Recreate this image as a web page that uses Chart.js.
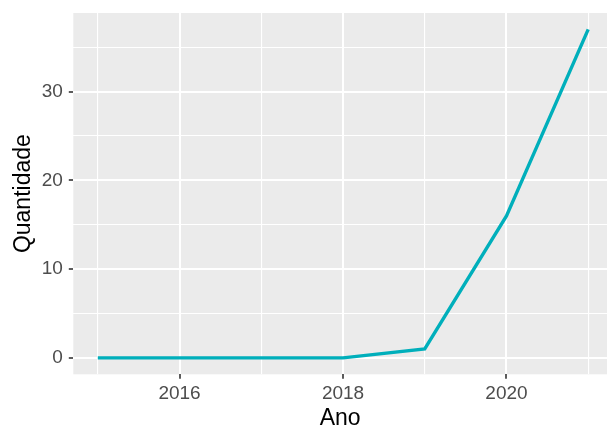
<!DOCTYPE html>
<html>
<head>
<meta charset="utf-8">
<script src="https://cdn.jsdelivr.net/npm/chart.js@4"></script>
<style>
  html, body { margin: 0; padding: 0; background: #ffffff; }
  #wrap { position: relative; width: 607px; height: 426px; }
</style>
</head>
<body>
<div id="wrap"><canvas id="c"></canvas></div>
<script>
const years = [2015, 2016, 2017, 2018, 2019, 2020, 2021];
const quantidade = [0, 0, 0, 0, 1, 16, 37];
const xMajorTicks = [2016, 2018, 2020];
const xMinorTicks = [2015, 2017, 2019, 2021];
const yMajorTicks = [0, 10, 20, 30];
const yMinorTicks = [5, 15, 25, 35];
const xTitle = 'Ano';
const yTitle = 'Quantidade';

const FONT = '"Liberation Sans", Arial, Helvetica, sans-serif';
const xAllTicks = xMajorTicks.concat(xMinorTicks).sort((a, b) => a - b);
const yAllTicks = yMajorTicks.concat(yMinorTicks).sort((a, b) => a - b);

const panelBg = {
  id: 'panelBg',
  beforeDraw(chart) {
    const { ctx, chartArea: a } = chart;
    ctx.save();
    ctx.fillStyle = '#EBEBEB';
    ctx.fillRect(a.left, a.top, a.right - a.left, a.bottom - a.top);
    ctx.restore();
  }
};

const isMajorX = v => xMajorTicks.includes(v);
const isMajorY = v => yMajorTicks.includes(v);

new Chart(document.getElementById('c'), {
  type: 'line',
  data: {
    datasets: [{
      data: years.map((x, i) => ({ x: x, y: quantidade[i] })),
      borderColor: '#00AFBB',
      borderWidth: 3.4,
      pointRadius: 0,
      tension: 0,
      fill: false
    }]
  },
  options: {
    responsive: true,
    maintainAspectRatio: false,
    animation: false,
    layout: { padding: { top: 13, left: 0, right: 0, bottom: 0 } },
    plugins: { legend: { display: false }, tooltip: { enabled: false } },
    scales: {
      x: {
        type: 'linear',
        min: 2014.7,
        max: 2021.23,
        afterBuildTicks: s => { s.ticks = xAllTicks.map(v => ({ value: v })); },
        afterFit: s => { s.height = 51.7; s.paddingLeft = 0; s.paddingRight = 0; },
        border: { display: false },
        grid: {
          color: '#FFFFFF',
          lineWidth: c => (c.tick && isMajorX(c.tick.value)) ? 2 : 1.1,
          drawTicks: true,
          tickLength: 4.5,
          tickWidth: 1.6,
          tickColor: c => (c.tick && isMajorX(c.tick.value)) ? '#333333' : 'rgba(0,0,0,0)'
        },
        ticks: {
          autoSkip: false,
          maxRotation: 0,
          padding: 4,
          color: '#4D4D4D',
          font: { family: FONT, size: 19 },
          callback: v => isMajorX(v) ? String(v) : ''
        },
        title: {
          display: true,
          text: xTitle,
          color: '#000000',
          font: { family: FONT, size: 23, lineHeight: 1 },
          padding: { top: 0, bottom: -4 }
        }
      },
      y: {
        type: 'linear',
        min: -1.85,
        max: 38.85,
        afterBuildTicks: s => { s.ticks = yAllTicks.map(v => ({ value: v })); },
        afterFit: s => { s.width = 73.3; s.paddingTop = 0; s.paddingBottom = 0; },
        border: { display: false },
        grid: {
          color: '#FFFFFF',
          lineWidth: c => (c.tick && isMajorY(c.tick.value)) ? 2 : 1.1,
          drawTicks: true,
          tickLength: 4.5,
          tickWidth: 1.6,
          tickColor: c => (c.tick && isMajorY(c.tick.value)) ? '#333333' : 'rgba(0,0,0,0)'
        },
        ticks: {
          autoSkip: false,
          padding: 6,
          color: '#4D4D4D',
          font: { family: FONT, size: 19 },
          callback: v => isMajorY(v) ? String(v) : ''
        },
        title: {
          display: true,
          text: yTitle,
          color: '#000000',
          font: { family: FONT, size: 23 },
          padding: { top: 10, bottom: 0 }
        }
      }
    }
  },
  plugins: [panelBg]
});
</script>
</body>
</html>
